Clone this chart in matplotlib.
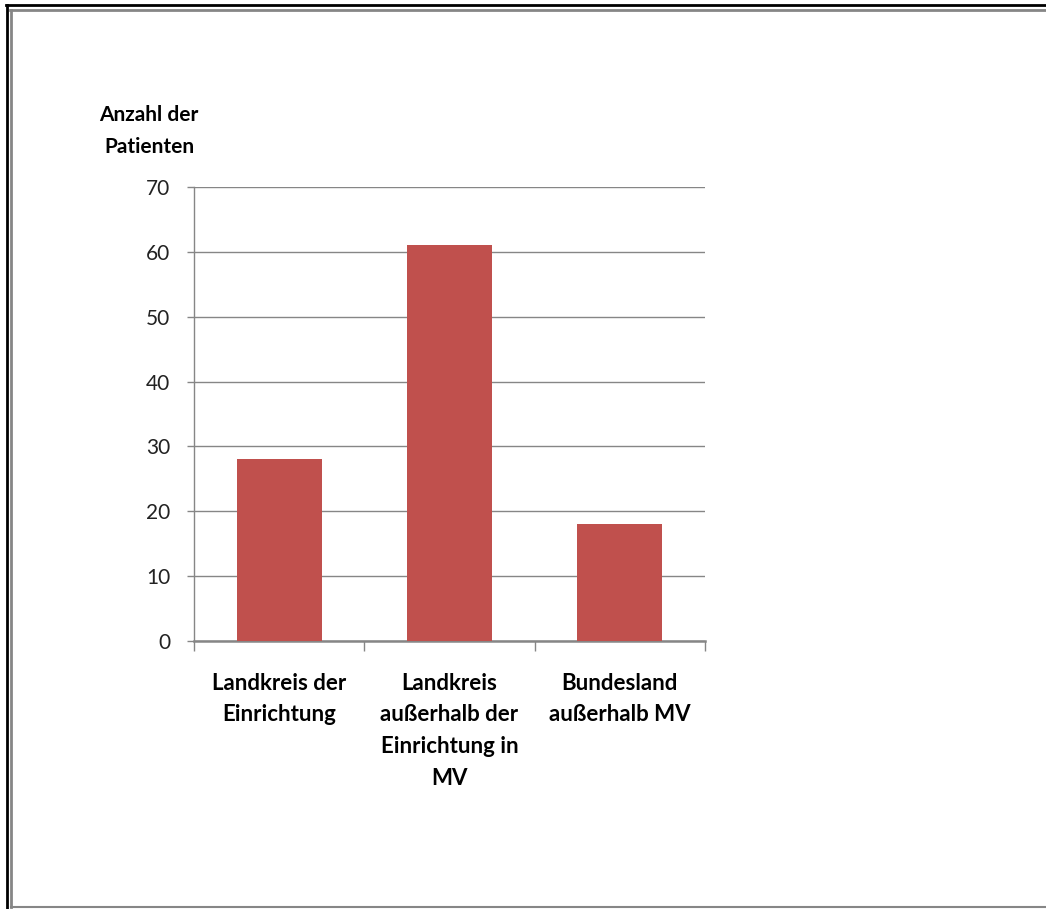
import matplotlib.pyplot as plt
from matplotlib.lines import Line2D

# Herkunft der Patienten
kategorien = ["Landkreis der\nEinrichtung",
              "Landkreis\naußerhalb der\nEinrichtung in\nMV",
              "Bundesland\naußerhalb MV"]
anzahl = [28, 61, 18]
y_ticks = [0, 10, 20, 30, 40, 50, 60, 70]

plt.rcParams['font.family'] = ['Lato', 'DejaVu Sans']

W, H = 1046, 909
fig = plt.figure(figsize=(W / 100, H / 100), dpi=100)
fig.patch.set_facecolor('white')

grau = '#868686'
ax = fig.add_axes([194 / W, 1 - 641 / H, 511 / W, 454 / H])

x = list(range(len(anzahl)))
ax.bar(x, anzahl, width=0.5, color='#C0504D', zorder=3)

ax.set_xlim(-0.5, len(anzahl) - 0.5)
ax.set_ylim(0, 70)
ax.set_yticks(y_ticks)
ax.yaxis.grid(True, color=grau, linewidth=1.0, zorder=0)
ax.tick_params(axis='y', length=5, width=1.0, color=grau, pad=12,
               labelsize=15, labelcolor='#222222')

# Kategorien mittig, Trennstriche an den Grenzen
ax.set_xticks(x)
ax.set_xticklabels(kategorien, fontsize=16, fontweight='bold',
                   linespacing=1.62, va='top')
ax.tick_params(axis='x', which='major', length=0, pad=23)
ax.set_xticks([-0.5, 0.5, 1.5, 2.5], minor=True)
ax.tick_params(axis='x', which='minor', length=7, width=1.0, color=grau)

for s in ['top', 'right']:
    ax.spines[s].set_visible(False)
ax.spines['left'].set_color(grau)
ax.spines['left'].set_linewidth(1.0)
ax.spines['bottom'].set_color(grau)
ax.spines['bottom'].set_linewidth(1.8)
ax.set_axisbelow(True)

fig.text(149 / W, 1 - 131 / H, "Anzahl der\nPatienten", ha='center',
         va='center', fontsize=15, fontweight='bold', linespacing=1.7)

# Rahmen
def linie(x0, y0, x1, y1, farbe, lw):
    fig.add_artist(Line2D([x0 / W, x1 / W], [1 - y0 / H, 1 - y1 / H],
                          color=farbe, linewidth=lw))

linie(6, 5, W, 5, 'black', 2.0)
linie(7, 5, 7, H, 'black', 2.0)
linie(10, 9.5, W, 9.5, grau, 2.0)
linie(10.5, 9.5, 10.5, 907, grau, 2.0)
linie(10.5, 907, W, 907, grau, 1.5)

fig.savefig('out.png', dpi=100, facecolor='white')
